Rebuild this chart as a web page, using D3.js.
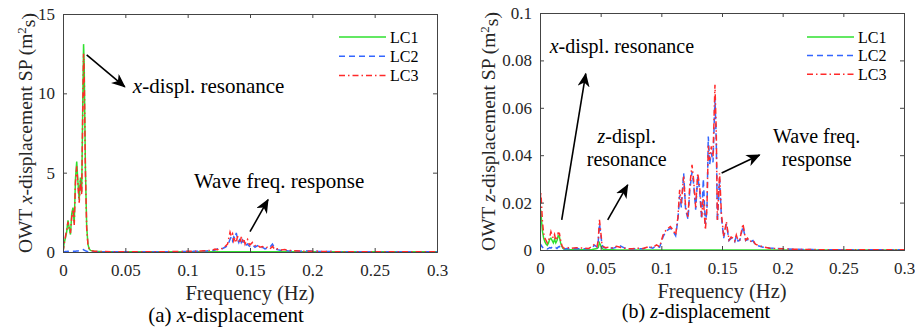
<!DOCTYPE html>
<html>
<head>
<meta charset="utf-8">
<script src="https://cdn.jsdelivr.net/npm/d3@7"></script>
<style>
  body { margin: 0; background: #fff; }
</style>
</head>
<body>
<script>
var fontSerif = "'Liberation Serif', 'DejaVu Serif', serif";

// ---- data: x-displacement spectrum (panel a) ----
var freqX = [
  0, 0.001, 0.002, 0.003, 0.004, 0.005, 0.006, 0.007, 0.008, 0.009,
  0.010, 0.011, 0.012, 0.013, 0.014, 0.015, 0.016, 0.0165, 0.017, 0.018,
  0.019, 0.020, 0.021, 0.022, 0.025, 0.03, 0.04, 0.05, 0.06, 0.07,
  0.08, 0.09, 0.1, 0.105, 0.11, 0.115, 0.12, 0.122, 0.124, 0.126,
  0.128, 0.13, 0.132, 0.134, 0.135, 0.136, 0.137, 0.138, 0.139, 0.14,
  0.141, 0.142, 0.143, 0.144, 0.145, 0.146, 0.147, 0.148, 0.149, 0.15,
  0.152, 0.154, 0.156, 0.158, 0.16, 0.162, 0.164, 0.166, 0.168, 0.17,
  0.172, 0.175, 0.178, 0.18, 0.185, 0.19, 0.195, 0.2, 0.205, 0.21,
  0.22, 0.24, 0.26, 0.28, 0.3
];
var xLC1 = [
  0, 0.6, 0.9, 1.3, 2.0, 1.5, 1.1, 2.4, 2.8, 1.8,
  4.6, 5.7, 4.4, 3.3, 4.7, 3.8, 10.2, 13.1, 11.8, 5.2,
  1.6, 0.5, 0.2, 0.1, 0.05, 0.03, 0.01, 0.01, 0.01, 0.01,
  0.01, 0.01, 0.01, 0.01, 0.01, 0.01, 0.01, 0.01, 0.01, 0.01,
  0.01, 0.01, 0.01, 0.01, 0.01, 0.01, 0.01, 0.01, 0.01, 0.01,
  0.01, 0.01, 0.01, 0.01, 0.01, 0.01, 0.01, 0.01, 0.01, 0.01,
  0.01, 0.01, 0.01, 0.01, 0.01, 0.01, 0.01, 0.01, 0.01, 0.01,
  0.01, 0.01, 0.01, 0.01, 0.01, 0.01, 0.01, 0.01, 0.01, 0.01,
  0.01, 0.01, 0.01, 0.01, 0.01
];
var xLC2 = [
  0, 0.02, 0.03, 0.03, 0.04, 0.03, 0.04, 0.05, 0.04, 0.05,
  0.05, 0.06, 0.07, 0.08, 0.1, 0.12, 0.14, 0.15, 0.12, 0.08,
  0.05, 0.03, 0.02, 0.02, 0.02, 0.01, 0.01, 0.01, 0.01, 0.01,
  0.01, 0.02, 0.03, 0.04, 0.05, 0.07, 0.1, 0.12, 0.2, 0.15,
  0.22, 0.3, 0.4, 0.8, 0.95, 0.7, 0.95, 0.85, 1.2, 0.8,
  0.6, 0.85, 0.6, 0.75, 0.55, 0.6, 0.45, 0.5, 0.4, 0.35,
  0.45, 0.3, 0.4, 0.25, 0.3, 0.2, 0.25, 0.3, 0.5, 0.2,
  0.15, 0.1, 0.12, 0.08, 0.06, 0.05, 0.07, 0.06, 0.03, 0.03,
  0.02, 0.02, 0.01, 0.01, 0.01
];
var xLC3 = [
  0, 0.5, 1.0, 1.4, 1.9, 1.4, 1.2, 2.2, 2.7, 1.7,
  4.4, 5.4, 4.2, 3.1, 4.5, 3.6, 9.8, 12.5, 11.2, 5.0,
  1.5, 0.5, 0.2, 0.1, 0.05, 0.03, 0.02, 0.02, 0.02, 0.02,
  0.02, 0.03, 0.04, 0.05, 0.06, 0.08, 0.12, 0.18, 0.15, 0.25,
  0.2, 0.35, 0.5, 1.25, 1.0, 1.15, 0.7, 0.9, 0.6, 1.0,
  0.75, 0.55, 0.95, 0.7, 0.85, 0.5, 0.7, 0.8, 0.55, 0.45,
  0.6, 0.4, 0.45, 0.3, 0.35, 0.25, 0.3, 0.2, 0.35, 0.15,
  0.2, 0.12, 0.15, 0.1, 0.08, 0.06, 0.05, 0.04, 0.04, 0.03,
  0.02, 0.02, 0.02, 0.02, 0.02
];

// ---- data: z-displacement spectrum (panel b) ----
var freqZ = [
  0, 0.0005, 0.001, 0.002, 0.003, 0.004, 0.005, 0.006, 0.007, 0.008,
  0.009, 0.010, 0.011, 0.012, 0.013, 0.014, 0.015, 0.016, 0.017, 0.018,
  0.019, 0.020, 0.022, 0.025, 0.03, 0.035, 0.04, 0.043, 0.045, 0.047,
  0.048, 0.049, 0.050, 0.051, 0.052, 0.054, 0.057, 0.06, 0.063, 0.066,
  0.069, 0.072, 0.076, 0.08, 0.085, 0.09, 0.093, 0.096, 0.0986, 0.1014,
  0.104, 0.1074, 0.1096, 0.1118, 0.1137, 0.1151, 0.1165, 0.1184, 0.12, 0.122,
  0.1234, 0.1253, 0.1266, 0.1283, 0.13, 0.1316, 0.1332, 0.1346, 0.1363, 0.1376,
  0.1387, 0.1398, 0.1412, 0.1426, 0.1442, 0.1453, 0.1462, 0.148, 0.1495, 0.1514,
  0.1536, 0.1558, 0.1575, 0.1591, 0.1605, 0.1618, 0.1632, 0.1646, 0.1673, 0.1695,
  0.171, 0.1728, 0.1755, 0.1775, 0.1797, 0.1838, 0.1893, 0.195, 0.2, 0.21,
  0.22, 0.24, 0.26, 0.28, 0.3
];
var zLC1 = [
  0.008, 0.017, 0.014, 0.008, 0.005, 0.0035, 0.0025, 0.002, 0.003, 0.0045,
  0.005, 0.004, 0.003, 0.0045, 0.003, 0.004, 0.006, 0.0055, 0.003, 0.0015,
  0.0006, 0.0003, 0.0002, 0.0001, 0.0001, 0.0001, 0.0001, 0.0002, 0.0004, 0.0006,
  0.001, 0.003, 0.002, 0.0008, 0.0003, 0.0001, 0.0001, 0.0001, 0, 0,
  0, 0, 0, 0, 0, 0, 0, 0, 0, 0,
  0, 0, 0, 0, 0, 0, 0, 0, 0, 0,
  0, 0, 0, 0, 0, 0, 0, 0, 0, 0,
  0, 0, 0, 0, 0, 0, 0, 0, 0, 0,
  0, 0, 0, 0, 0, 0, 0, 0, 0, 0,
  0, 0, 0, 0, 0, 0, 0, 0, 0, 0,
  0, 0, 0, 0, 0
];
var zLC2 = [
  0.001, 0.0015, 0.002, 0.0012, 0.0008, 0.0006, 0.0008, 0.0005, 0.0007, 0.001,
  0.0008, 0.0012, 0.0009, 0.0007, 0.001, 0.0006, 0.0012, 0.0015, 0.001, 0.0006,
  0.0005, 0.0004, 0.0006, 0.0004, 0.0006, 0.0005, 0.0005, 0.001, 0.002, 0.0012,
  0.0035, 0.011, 0.007, 0.0025, 0.0012, 0.0008, 0.001, 0.0007, 0.0012, 0.0018,
  0.001, 0.0005, 0.0004, 0.0006, 0.0005, 0.0012, 0.0008, 0.0018, 0.0012, 0.0055,
  0.008, 0.0092, 0.008, 0.006, 0.013, 0.023, 0.018, 0.0324, 0.017, 0.013,
  0.025, 0.033, 0.028, 0.017, 0.031, 0.025, 0.013, 0.03, 0.011, 0.017,
  0.0479, 0.036, 0.041, 0.037, 0.064, 0.045, 0.012, 0.03, 0.014, 0.005,
  0.011, 0.004, 0.005, 0.0045, 0.0035, 0.006, 0.0038, 0.004, 0.010, 0.004,
  0.0045, 0.0032, 0.004, 0.0022, 0.0018, 0.0012, 0.0008, 0.0007, 0.0005, 0.0003,
  0.0002, 0.0001, 0.0001, 0.0001, 0.0001
];
var zLC3 = [
  0.010, 0.0246, 0.022, 0.012, 0.007, 0.005, 0.004, 0.003, 0.004, 0.0055,
  0.0077, 0.006, 0.005, 0.0065, 0.004, 0.005, 0.0072, 0.007, 0.004, 0.002,
  0.001, 0.0008, 0.0012, 0.0006, 0.001, 0.0008, 0.0006, 0.0015, 0.0025, 0.0015,
  0.004, 0.0127, 0.008, 0.003, 0.0015, 0.001, 0.0012, 0.0008, 0.0016, 0.0012,
  0.0008, 0.0006, 0.0005, 0.0008, 0.0006, 0.0015, 0.001, 0.0022, 0.0014, 0.0063,
  0.0085, 0.0099, 0.0085, 0.0063, 0.014, 0.0254, 0.0197, 0.031, 0.018, 0.014,
  0.0268, 0.0359, 0.0296, 0.018, 0.0324, 0.0268, 0.014, 0.022, 0.0085, 0.018,
  0.044, 0.038, 0.0437, 0.0394, 0.0697, 0.0493, 0.0127, 0.0324, 0.0155, 0.0056,
  0.012, 0.0042, 0.0055, 0.005, 0.0038, 0.0063, 0.004, 0.0042, 0.011, 0.0042,
  0.005, 0.0035, 0.0042, 0.0025, 0.002, 0.0014, 0.0007, 0.0006, 0.0005, 0.0003,
  0.0002, 0.0001, 0.0001, 0.0001, 0.0001
];

var seriesNames = ["LC1", "LC2", "LC3"];
var xTicks = [0, 0.05, 0.1, 0.15, 0.2, 0.25, 0.3];
var yTicksX = [0, 5, 10, 15];
var yTicksZ = [0, 0.02, 0.04, 0.06, 0.08, 0.1];

var colors = { LC1: "#2fe02f", LC2: "#3366ff", LC3: "#ff2a2a" };
var dashes = { LC1: null, LC2: "6,4", LC3: "6,3,1.5,3" };

var svg = d3.select("body").append("svg")
    .attr("width", 915).attr("height", 329)
    .style("font-family", fontSerif);

var defs = svg.append("defs");
defs.append("marker")
    .attr("id", "head")
    .attr("markerUnits", "userSpaceOnUse")
    .attr("markerWidth", 16).attr("markerHeight", 14)
    .attr("refX", 13).attr("refY", 6)
    .attr("orient", "auto")
  .append("path")
    .attr("d", "M0,0 L14,6 L0,12 L4,6 Z")
    .attr("fill", "#000");

function drawPanel(p) {
  var g = svg.append("g");
  var x = d3.scaleLinear().domain([0, 0.3]).range([p.left, p.right]);
  var y = d3.scaleLinear().domain([0, p.ymax]).range([p.bottom, p.top]);

  defs.append("clipPath").attr("id", "clip" + p.id)
    .append("rect").attr("x", p.left).attr("y", p.top - 2)
    .attr("width", p.right - p.left).attr("height", p.bottom - p.top + 2);

  // lines
  var line = d3.line()
      .x(function(d){ return x(d[0]); })
      .y(function(d){ return y(d[1]); });
  var lines = g.append("g").attr("clip-path", "url(#clip" + p.id + ")");
  seriesNames.forEach(function(name, i) {
    var pts = p.freq.map(function(f, k){ return [f, p.values[i][k]]; });
    lines.append("path")
      .datum(pts)
      .attr("d", line)
      .attr("fill", "none")
      .attr("stroke", colors[name])
      .attr("stroke-width", 1.5)
      .attr("stroke-dasharray", dashes[name]);
  });

  // axes with inward ticks on all sides (box)
  g.append("g").attr("transform", "translate(0," + p.bottom + ")")
    .call(d3.axisBottom(x).tickValues(xTicks).tickSize(-4).tickPadding(12)
      .tickFormat(function(d){ return d3.format("~g")(d); }));
  g.append("g").attr("transform", "translate(0," + p.top + ")")
    .call(d3.axisTop(x).tickValues(xTicks).tickSize(-4).tickFormat(""));
  g.append("g").attr("transform", "translate(" + p.left + ",0)")
    .call(d3.axisLeft(y).tickValues(p.yTicks).tickSize(-4).tickPadding(8)
      .tickFormat(function(d){ return d3.format("~g")(d); }));
  g.append("g").attr("transform", "translate(" + p.right + ",0)")
    .call(d3.axisRight(y).tickValues(p.yTicks).tickSize(-4).tickFormat(""));

  g.selectAll(".domain").attr("stroke", "#444");
  g.selectAll(".tick line").attr("stroke", "#444");
  g.selectAll(".tick text").attr("fill", "#262626")
    .style("font-family", fontSerif)
    .style("font-size", "17px");

  // x label and caption
  g.append("text")
    .attr("x", (p.left + p.right) / 2).attr("y", p.xlabelY)
    .attr("text-anchor", "middle").attr("fill", "#262626")
    .style("font-family", fontSerif)
    .style("font-size", "20.5px").text("Frequency (Hz)");

  var cap = g.append("text")
    .attr("x", p.capX).attr("y", p.capY)
    .attr("text-anchor", "middle").attr("fill", "#000")
    .style("font-family", fontSerif)
    .style("font-size", p.capSize + "px");
  cap.append("tspan").text(p.capPre + " ");
  cap.append("tspan").style("font-style", "italic").text(p.axisVar);
  cap.append("tspan").text("-displacement");

  // y label
  var yl = g.append("text")
    .attr("transform", "translate(" + p.ylabelX + "," + ((p.top + p.bottom) / 2) + ") rotate(-90)")
    .attr("text-anchor", "middle").attr("fill", "#262626")
    .style("font-family", fontSerif)
    .style("font-size", "19.5px");
  yl.append("tspan").text("OWT ");
  yl.append("tspan").style("font-style", "italic").text(p.axisVar);
  yl.append("tspan").text("-displacement SP (m");
  yl.append("tspan").attr("dy", "-0.5em").style("font-size", "13px").text("2");
  yl.append("tspan").attr("dy", "0.5em").text("s)");

  // legend
  seriesNames.forEach(function(name, i) {
    var ly = p.legY + i * p.legStep;
    g.append("line")
      .attr("x1", p.legX).attr("x2", p.legX + 47)
      .attr("y1", ly).attr("y2", ly)
      .attr("stroke", colors[name]).attr("stroke-width", 1.5)
      .attr("stroke-dasharray", dashes[name]);
    g.append("text")
      .attr("x", p.legX + 51).attr("y", ly + 5.5)
      .attr("fill", "#000")
      .style("font-family", fontSerif)
      .style("font-size", "16px").text(name);
  });

  // annotations
  p.arrows.forEach(function(a) {
    g.append("line")
      .attr("x1", x(a[0])).attr("y1", y(a[1]))
      .attr("x2", x(a[2])).attr("y2", y(a[3]))
      .attr("stroke", "#000").attr("stroke-width", 1.6)
      .attr("marker-end", "url(#head)");
  });
  p.notes.forEach(function(n) {
    var t = g.append("text")
      .attr("x", x(n.f)).attr("y", y(n.v))
      .attr("text-anchor", n.anchor).attr("fill", "#000")
      .style("font-family", fontSerif)
      .style("font-size", p.noteSize + "px");
    if (n.italic) {
      t.append("tspan").style("font-style", "italic").text(n.italic);
    }
    t.append("tspan").text(n.text);
  });
}

drawPanel({
  id: "a", left: 63, right: 437, top: 14, bottom: 252, ymax: 15,
  freq: freqX, values: [xLC1, xLC2, xLC3], yTicks: yTicksX,
  xlabelY: 300, capX: 226, capY: 322, capSize: 21, capPre: "(a)",
  axisVar: "x", ylabelX: 32, legX: 339, legY: 37, legStep: 19.3,
  noteSize: 21,
  arrows: [[0.019, 12.43, 0.0496, 10.41], [0.150, 1.28, 0.1645, 3.3]],
  notes: [
    { f: 0.056, v: 10.03, anchor: "start", italic: "x", text: "-displ. resonance" },
    { f: 0.105, v: 4.05, anchor: "start", text: "Wave freq. response" }
  ]
});

drawPanel({
  id: "b", left: 540, right: 904, top: 13, bottom: 250, ymax: 0.1,
  freq: freqZ, values: [zLC1, zLC2, zLC3], yTicks: yTicksZ,
  xlabelY: 298, capX: 696, capY: 318, capSize: 20, capPre: "(b)",
  axisVar: "z", ylabelX: 495, legX: 807, legY: 37, legStep: 18.6,
  noteSize: 20,
  arrows: [[0.0179, 0.0127, 0.0377, 0.0744], [0.0558, 0.0127, 0.0723, 0.0275],
           [0.1497, 0.0325, 0.181, 0.0401]],
  notes: [
    { f: 0.008, v: 0.0832, anchor: "start", italic: "x", text: "-displ. resonance" },
    { f: 0.0715, v: 0.0452, anchor: "middle", italic: "z", text: "-displ." },
    { f: 0.0715, v: 0.0355, anchor: "middle", text: "resonance" },
    { f: 0.228, v: 0.0452, anchor: "middle", text: "Wave freq." },
    { f: 0.228, v: 0.0355, anchor: "middle", text: "response" }
  ]
});
</script>
</body>
</html>
